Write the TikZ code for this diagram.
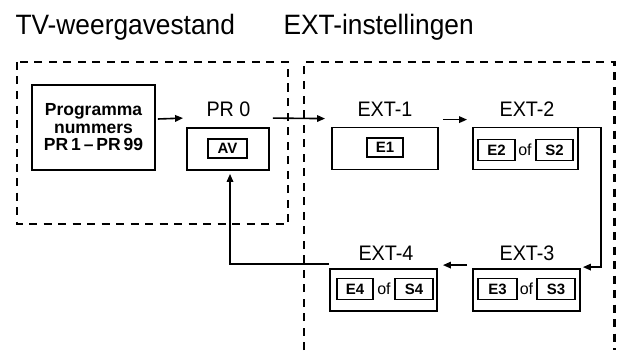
\documentclass[tikz,border=0pt]{standalone}
\usepackage{fontspec}
\setmainfont{Liberation Sans}
\newfontfamily\narrowfont[FakeStretch=0.94]{Liberation Sans}
\usetikzlibrary{arrows.meta}
\begin{document}
\begin{tikzpicture}[x=1pt,y=-1pt,
  outerbox/.style={draw,line width=1.8pt,minimum width=#1,minimum height=42pt,inner sep=0pt},
  innerbox/.style={draw,line width=1.6pt,minimum width=#1,minimum height=21pt,inner sep=0pt,font=\fontsize{15}{16}\selectfont\bfseries},
  lbl/.style={anchor=base,font=\narrowfont\fontsize{21}{22}\selectfont},
  ttl/.style={anchor=base west,font=\narrowfont\fontsize{28}{30}\selectfont},
  ofl/.style={font=\fontsize{16}{17}\selectfont,inner sep=0pt},
  dashbox/.style={line width=2.5pt,dash pattern=on 8pt off 6.5pt},
  conn/.style={line width=1.6pt,-{Triangle[length=8pt,width=6.5pt]}}]
\useasboundingbox (0,0) rectangle (617,350);
% titles
\node[ttl] (t1) at (12,35) {TV-weergavestand};
\node[ttl] (t2) at (280,35) {EXT-instellingen};
% dashed regions
\draw[dashbox] (17,62) rectangle (288,224);
\draw[dashbox] (304,350) -- (304,62) -- (614.5,62) -- (614.5,350);
% programma
\node[draw,line width=1.8pt,minimum width=123pt,minimum height=85pt,align=center,
  font=\fontsize{17.5}{17.5}\selectfont\bfseries] (prog) at (93.5,127.5)
  {Programma\\nummers\\PR\,1\,--\,PR\,99};
% PR 0
\node[outerbox=82pt] (pr0) at (228,149) {};
\node[innerbox=39pt,minimum height=19pt] (av) at (227.5,148.5) {AV};
\node[lbl] (pr0l) at (228.5,116) {PR 0};
% EXT-1
\node[outerbox=106pt] (ext1) at (385,148.5) {};
\node[innerbox=36pt,minimum height=19pt] (e1) at (385,147.5) {E1};
\node[lbl] (ext1l) at (385,116) {EXT-1};
% EXT-2
\node[outerbox=105pt] (ext2) at (525.5,148.5) {};
\node[innerbox=37pt] (e2) at (496.5,150) {E2};
\node[ofl] (of2) at (525,150) {of};
\node[innerbox=37pt] (s2) at (554.5,150) {S2};
\node[lbl] (ext2l) at (527,116) {EXT-2};
% EXT-3
\node[outerbox=107pt] (ext3) at (526.5,290) {};
\node[innerbox=39pt] (e3) at (497.5,289) {E3};
\node[ofl] (of3) at (526.5,289) {of};
\node[innerbox=38pt] (s3) at (556,289) {S3};
\node[lbl] (ext3l) at (527,260) {EXT-3};
% EXT-4
\node[outerbox=107pt] (ext4) at (383.5,290) {};
\node[innerbox=36pt] (e4) at (355,289) {E4};
\node[ofl] (of4) at (384,289) {of};
\node[innerbox=38pt] (s4) at (414,289) {S4};
\node[lbl] (ext4l) at (386,260) {EXT-4};
% connectors
\draw[conn] ([xshift=2pt,yshift=8.5pt]prog.east) -- ([xshift=-3pt,yshift=9pt]pr0.north west);
\draw[conn] ([xshift=3pt,yshift=9pt]pr0.north east) -- ([xshift=-6pt,yshift=8pt]ext1.north west);
\draw[conn] ([xshift=4pt,yshift=7pt]ext1.north east) -- ([xshift=-5pt,yshift=7pt]ext2.north west);
\draw[conn] ([yshift=-1pt]ext2.north east) -- ++(22,0) |- ([xshift=2pt,yshift=1pt]ext3.north east);
\draw[conn] ([xshift=-5pt,yshift=3pt]ext3.north west) -- ([xshift=5pt,yshift=3pt]ext4.north east);
\draw[conn] ([yshift=4pt]ext4.north west) -| ([xshift=2pt,yshift=-3pt]pr0.south);
\end{tikzpicture}
\end{document}
